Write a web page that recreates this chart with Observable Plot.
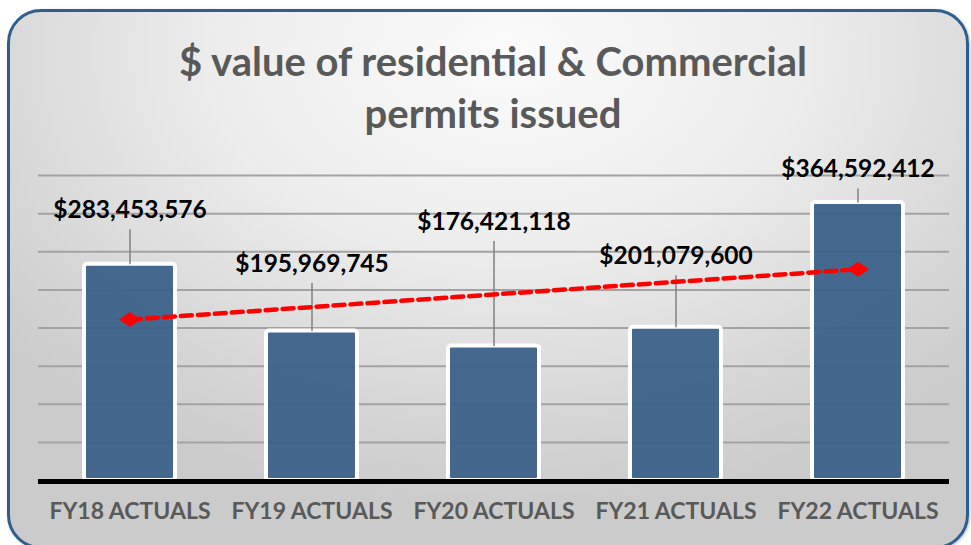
<!DOCTYPE html>
<html>
<head>
<meta charset="utf-8">
<script src="https://cdn.jsdelivr.net/npm/d3@7"></script>
<script src="https://cdn.jsdelivr.net/npm/@observablehq/plot@0.6"></script>
<style>
  html, body { margin: 0; padding: 0; background: #ffffff; }
  #wrap { position: relative; width: 971px; height: 545px; overflow: hidden; font-family: Lato, "Open Sans", sans-serif; }
  #card {
    position: absolute; left: 7px; top: 9px; width: 962px; height: 540px;
    border: 3px solid #2f5d8c; border-radius: 34px; box-sizing: border-box;
    background: radial-gradient(ellipse 70% 85% at 52% 8%, #fbfbfb 0%, #ececec 45%, #d6d6d6 80%, #cbcbcb 100%);
    box-shadow: 1px 1px 3px rgba(0,0,0,0.25);
  }
  #title {
    position: absolute; left: 0; width: 986px; top: 35px; text-align: center;
    font-family: Lato, sans-serif; font-weight: 700; font-size: 40px; line-height: 52px; color: #595959;
  }
  #chart { position: absolute; left: 0; top: 140px; }
</style>
</head>
<body>
<div id="wrap">
  <div id="card"></div>
  <div id="title">$ value of residential &amp; Commercial<br>permits issued</div>
  <div id="chart"></div>
</div>
<script>
// ---- data ----
const categories = ["FY18 ACTUALS", "FY19 ACTUALS", "FY20 ACTUALS", "FY21 ACTUALS", "FY22 ACTUALS"];
const values = [283453576, 195969745, 176421118, 201079600, 364592412];
const valueLabels = ["$283,453,576", "$195,969,745", "$176,421,118", "$201,079,600", "$364,592,412"];
const trendCategories = ["FY18 ACTUALS", "FY22 ACTUALS"];
const trendValues = [211000000, 277000000];
const yTicks = [0, 50e6, 100e6, 150e6, 200e6, 250e6, 300e6, 350e6, 400e6];

// ---- layout (pixels, kept apart from data) ----
const W = 971, H = 405, mTop = 35, mBottom = 65, mLeft = 38, mRight = 22;
const leaderLift = [35, 48, 105, 52, 14]; // px from bar top to top of leader line
const yMax = 400e6;
const unitsPerPx = yMax / (H - mTop - mBottom);

const bars = categories.map((c, i) => ({cat: c, value: values[i], label: valueLabels[i],
  top: values[i] + leaderLift[i] * unitsPerPx}));
const trend = trendCategories.map((c, i) => ({cat: c, value: trendValues[i]}));

const flatDiamond = {
  draw(ctx, size) {
    const w = 11, h = 7.5;
    ctx.moveTo(-w, 0); ctx.lineTo(0, -h); ctx.lineTo(w, 0); ctx.lineTo(0, h); ctx.closePath();
  }
};

const chart = Plot.plot({
  width: W, height: H,
  marginTop: mTop, marginBottom: mBottom, marginLeft: mLeft, marginRight: mRight,
  style: {background: "transparent", overflow: "visible"},
  x: {domain: categories, paddingInner: 0.5, paddingOuter: 0.25, axis: null},
  y: {domain: [0, yMax], axis: null},
  marks: [
    Plot.ruleY(yTicks.filter(d => d > 0), {stroke: "#a3a3a3", strokeWidth: 2}),
    Plot.barY(bars, {x: "cat", y: "value", fill: "#395f89", fillOpacity: 0.93, stroke: "#ffffff", strokeWidth: 4, rx: 3}),
    Plot.ruleY([0], {stroke: "#000000", strokeWidth: 5, dy: 1}),
    Plot.link(bars, {x1: "cat", x2: "cat", y1: "value", y2: "top", stroke: "#808080", strokeWidth: 1.5}),
    Plot.text(bars, {x: "cat", y: "top", text: "label", dy: -19, fill: "#000000", fontSize: 24.5, fontWeight: 700, fontFamily: "Lato, sans-serif"}),
    Plot.line(trend, {x: "cat", y: "value", stroke: "#ff0000", strokeWidth: 4.5, strokeDasharray: "11,6"}),
    Plot.dot(trend, {x: "cat", y: "value", symbol: flatDiamond, fill: "#ff0000", r: 6}),
    Plot.text(categories, {x: d => d, frameAnchor: "bottom", y: 0, dy: 38, text: d => d, fill: "#595959", fontSize: 23, fontWeight: 700, fontFamily: "Lato, sans-serif"})
  ]
});
document.getElementById("chart").appendChild(chart);
</script>
</body>
</html>
